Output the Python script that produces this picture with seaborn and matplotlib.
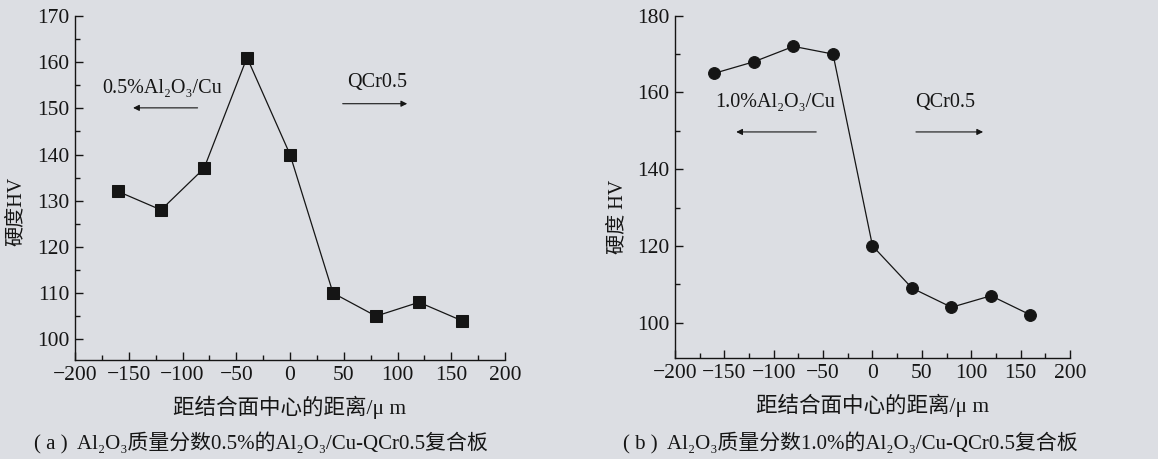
import matplotlib
matplotlib.use("Agg")
import matplotlib.pyplot as plt
from matplotlib.ticker import MultipleLocator
import seaborn as sns
import pandas as pd

# ---- data ----
distance = [-160, -120, -80, -40, 0, 40, 80, 120, 160]
hv_05 = [132, 128, 137, 161, 140, 110, 105, 108, 104]
hv_10 = [165, 168, 172, 170, 120, 109, 104, 107, 102]
xticks = [-200, -150, -100, -50, 0, 50, 100, 150, 200]

xlabel = "距结合面中心的距离/μ m"
ylabel_a = "硬度HV"
ylabel_b = "硬度 HV"
caption_a = "( a )  Al₂O₃质量分数0.5%的Al₂O₃/Cu-QCr0.5复合板"
caption_b = "( b )  Al₂O₃质量分数1.0%的Al₂O₃/Cu-QCr0.5复合板"
note_left_a = "0.5%Al₂O₃/Cu"
note_left_b = "1.0%Al₂O₃/Cu"
note_right = "QCr0.5"

BG = "#dcdee3"
INK = "#151515"

sns.set_theme(style="ticks")
plt.rcParams["font.family"] = ["Liberation Serif", "DejaVu Serif", "Noto Sans CJK SC"]
plt.rcParams["axes.unicode_minus"] = True

fig = plt.figure(figsize=(11.58, 4.59), dpi=100, facecolor=BG)
ax1 = fig.add_axes([0.0648, 0.2157, 0.3713, 0.7495])
ax2 = fig.add_axes([0.5829, 0.2194, 0.3411, 0.7464])

df_a = pd.DataFrame({"x": distance, "y": hv_05})
df_b = pd.DataFrame({"x": distance, "y": hv_10})

sns.lineplot(data=df_a, x="x", y="y", ax=ax1, color=INK, linewidth=0.9,
             marker="s", markersize=8, markeredgecolor=INK, markerfacecolor=INK)
sns.lineplot(data=df_b, x="x", y="y", ax=ax2, color=INK, linewidth=0.9,
             marker="o", markersize=8.5, markeredgecolor=INK, markerfacecolor=INK)

for ax in (ax1, ax2):
    ax.set_facecolor(BG)
    ax.set_xlim(-200, 200)
    ax.set_xticks(xticks)
    ax.xaxis.set_minor_locator(MultipleLocator(25))
    for s in ("top", "right"):
        ax.spines[s].set_visible(False)
    for s in ("left", "bottom"):
        ax.spines[s].set_color(INK)
        ax.spines[s].set_linewidth(1.0)
    ax.tick_params(which="major", direction="in", length=6, width=1.0, color=INK,
                   labelsize=15.5, labelcolor=INK, pad=4)
    ax.tick_params(which="minor", direction="in", length=3.5, width=1.0, color=INK)
    ax.set_xlabel(xlabel, fontsize=15.5, color=INK, labelpad=8)

ax1.set_ylim(95.5, 170)
ax1.yaxis.set_major_locator(MultipleLocator(10))
ax1.yaxis.set_minor_locator(MultipleLocator(5))
ax1.set_ylabel(ylabel_a, fontsize=14.5, color=INK)
ax1.yaxis.set_label_coords(-0.114, 0.433)

ax2.set_ylim(90.7, 180)
ax2.yaxis.set_major_locator(MultipleLocator(20))
ax2.yaxis.set_minor_locator(MultipleLocator(10))
ax2.set_ylabel(ylabel_b, fontsize=14.5, color=INK)
ax2.yaxis.set_label_coords(-0.12, 0.412)

arrow_kw = dict(arrowstyle="-|>", color=INK, lw=0.8, mutation_scale=9, shrinkA=0, shrinkB=0)

# panel a annotations
ax1.text(-119, 154.4, note_left_a, fontsize=14.5, color=INK, ha="center", va="center")
ax1.annotate("", xy=(-146, 150.1), xytext=(-86, 150.1), arrowprops=arrow_kw)
ax1.text(81, 155.5, note_right, fontsize=14.5, color=INK, ha="center", va="center")
ax1.annotate("", xy=(109, 151), xytext=(49, 151), arrowprops=arrow_kw)

# panel b annotations
ax2.text(-99, 157.3, note_left_b, fontsize=14.5, color=INK, ha="center", va="center")
ax2.annotate("", xy=(-138, 149.7), xytext=(-57, 149.7), arrowprops=arrow_kw)
ax2.text(74, 157.3, note_right, fontsize=14.5, color=INK, ha="center", va="center")
ax2.annotate("", xy=(112, 149.7), xytext=(44, 149.7), arrowprops=arrow_kw)

fig.text(261 / 1158, 1 - 443 / 459, caption_a, fontsize=15, color=INK, ha="center", va="center")
fig.text(850 / 1158, 1 - 443 / 459, caption_b, fontsize=15, color=INK, ha="center", va="center")

fig.savefig("out.png", dpi=100, facecolor=BG)
